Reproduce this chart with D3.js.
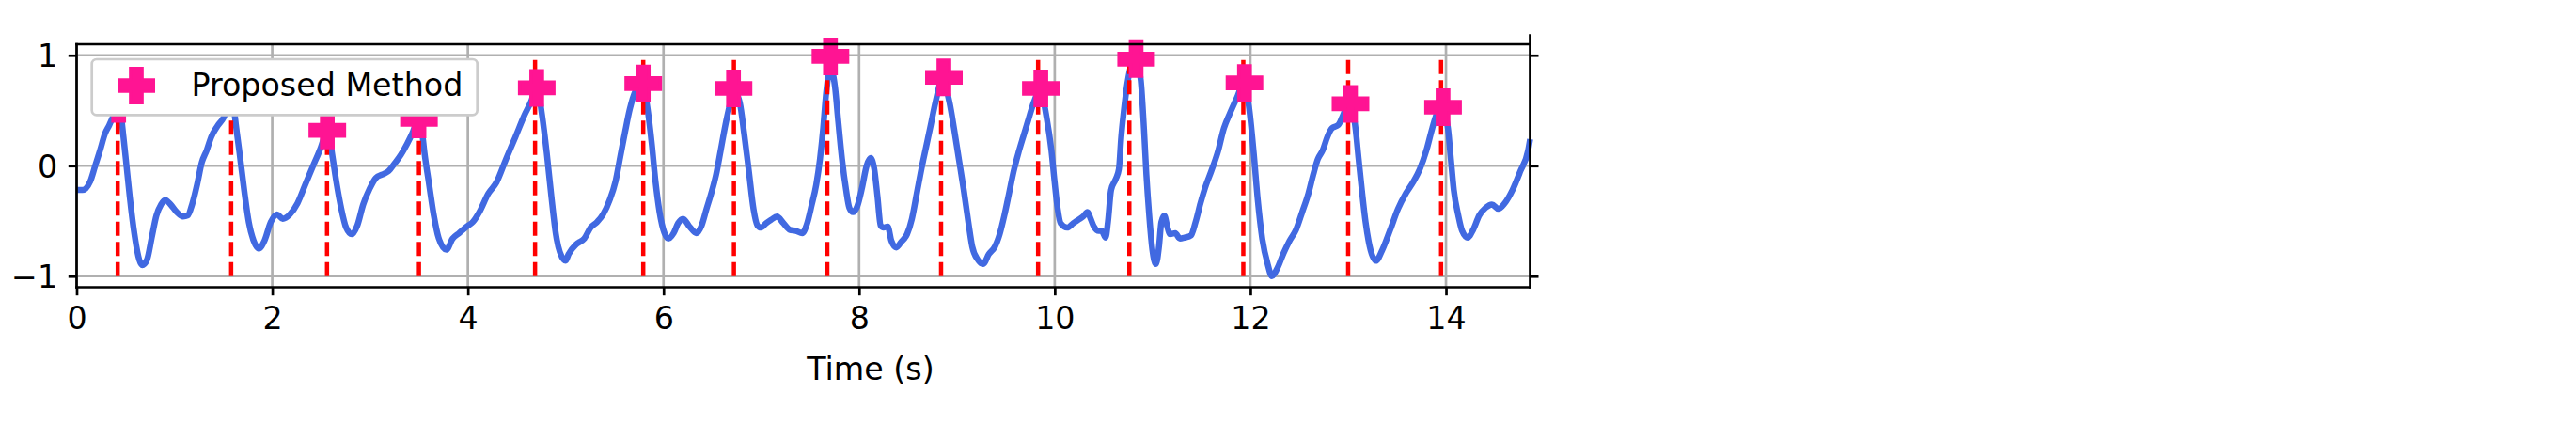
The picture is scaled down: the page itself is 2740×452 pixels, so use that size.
<!DOCTYPE html>
<html>
<head>
<meta charset="utf-8">
<script src="https://cdn.jsdelivr.net/npm/d3@7"></script>
<style>
  body { margin: 0; background: #fff; }
  svg { display: block; font-family: "DejaVu Sans", sans-serif; }
</style>
</head>
<body>
<svg id="chart" width="2740" height="452"></svg>
<script>
// signal samples (time in s, normalised amplitude)
var times = [0.00,0.06,0.14,0.19,0.24,0.29,0.335,0.383,0.42,0.455,0.479,0.51,0.543,0.591,0.64,0.671,0.72,0.768,0.816,0.864,0.905,0.96,1.024,1.088,1.136,1.184,1.232,1.28,1.33,1.376,1.44,1.505,1.54,1.575,1.60,1.617,1.665,1.713,1.76,1.81,1.864,1.92,1.985,2.05,2.107,2.18,2.258,2.338,2.418,2.498,2.54,2.565,2.59,2.61,2.66,2.706,2.755,2.813,2.87,2.93,2.995,3.06,3.123,3.187,3.25,3.316,3.38,3.43,3.48,3.505,3.53,3.556,3.604,3.652,3.70,3.78,3.844,3.91,3.99,4.05,4.117,4.21,4.293,4.39,4.486,4.58,4.646,4.69,4.72,4.758,4.806,4.854,4.90,4.98,5.00,5.03,5.11,5.19,5.255,5.32,5.383,5.45,5.51,5.56,5.608,5.655,5.71,5.785,5.838,5.88,5.918,5.96,6.01,6.05,6.104,6.15,6.20,6.265,6.338,6.39,6.44,6.488,6.538,6.585,6.633,6.68,6.715,6.78,6.825,6.873,6.92,6.96,6.995,7.05,7.10,7.16,7.226,7.29,7.354,7.418,7.466,7.514,7.562,7.60,7.633,7.66,7.684,7.705,7.73,7.754,7.787,7.825,7.867,7.90,7.937,7.98,8.03,8.077,8.117,8.155,8.188,8.22,8.25,8.293,8.33,8.38,8.43,8.49,8.54,8.59,8.637,8.685,8.733,8.78,8.85,8.925,8.97,9.02,9.07,9.117,9.156,9.213,9.268,9.326,9.39,9.437,9.485,9.533,9.58,9.63,9.677,9.725,9.773,9.85,9.918,9.966,9.998,10.03,10.06,10.127,10.19,10.24,10.29,10.335,10.367,10.40,10.45,10.48,10.52,10.544,10.576,10.624,10.656,10.68,10.705,10.737,10.77,10.81,10.85,10.88,10.912,10.937,10.966,10.998,11.035,11.066,11.09,11.12,11.153,11.18,11.232,11.28,11.33,11.393,11.44,11.49,11.537,11.60,11.666,11.73,11.794,11.86,11.93,11.985,12.034,12.076,12.12,12.18,12.22,12.275,12.34,12.40,12.467,12.53,12.594,12.643,12.69,12.74,12.787,12.835,12.90,12.94,13.0,13.04,13.075,13.107,13.14,13.178,13.22,13.284,13.35,13.43,13.51,13.59,13.67,13.733,13.80,13.86,13.91,13.96,14.02,14.05,14.08,14.126,14.165,14.222,14.278,14.34,14.406,14.47,14.535,14.60,14.68,14.76,14.84,14.86];
var signal = [-0.22,-0.22,-0.14,0.00,0.14,0.29,0.37,0.47,0.57,0.45,0.26,0.00,-0.28,-0.62,-0.85,-0.90,-0.85,-0.65,-0.45,-0.35,-0.31,-0.35,-0.42,-0.46,-0.45,-0.34,-0.17,0.03,0.14,0.26,0.36,0.44,0.52,0.66,0.60,0.456,0.12,-0.22,-0.51,-0.68,-0.75,-0.68,-0.51,-0.44,-0.48,-0.44,-0.34,-0.17,0.00,0.17,0.28,0.32,0.24,0.12,-0.17,-0.39,-0.56,-0.62,-0.54,-0.35,-0.21,-0.11,-0.08,-0.05,0.02,0.10,0.20,0.29,0.40,0.42,0.32,0.12,-0.17,-0.45,-0.65,-0.76,-0.66,-0.61,-0.55,-0.51,-0.42,-0.25,-0.15,0.06,0.26,0.46,0.58,0.68,0.66,0.46,0.12,-0.28,-0.62,-0.85,-0.86,-0.80,-0.71,-0.66,-0.56,-0.51,-0.44,-0.31,-0.14,0.09,0.31,0.51,0.67,0.74,0.51,0.20,-0.14,-0.42,-0.61,-0.66,-0.61,-0.52,-0.48,-0.55,-0.61,-0.54,-0.39,-0.25,-0.08,0.14,0.37,0.56,0.69,0.57,0.29,-0.05,-0.39,-0.54,-0.56,-0.52,-0.49,-0.46,-0.52,-0.58,-0.59,-0.61,-0.53,-0.36,-0.17,0.06,0.34,0.63,0.82,1.00,0.85,0.71,0.40,0.06,-0.22,-0.38,-0.42,-0.37,-0.20,0.00,0.07,-0.03,-0.28,-0.54,-0.56,-0.55,-0.68,-0.74,-0.69,-0.62,-0.48,-0.25,-0.03,0.17,0.37,0.57,0.78,0.57,0.34,0.06,-0.22,-0.51,-0.73,-0.85,-0.89,-0.80,-0.73,-0.62,-0.45,-0.25,-0.05,0.12,0.26,0.40,0.54,0.68,0.43,0.14,-0.14,-0.39,-0.52,-0.56,-0.52,-0.49,-0.46,-0.42,-0.48,-0.55,-0.59,-0.59,-0.65,-0.51,-0.22,-0.12,-0.03,0.26,0.48,0.71,0.87,0.95,0.90,0.77,0.34,-0.08,-0.45,-0.76,-0.89,-0.73,-0.51,-0.45,-0.56,-0.62,-0.61,-0.66,-0.65,-0.63,-0.51,-0.34,-0.20,-0.05,0.12,0.34,0.48,0.61,0.74,0.54,0.12,-0.31,-0.65,-0.90,-1.00,-0.93,-0.79,-0.68,-0.58,-0.42,-0.25,-0.08,0.06,0.14,0.26,0.34,0.37,0.44,0.55,0.52,0.34,0.06,-0.22,-0.51,-0.73,-0.86,-0.76,-0.58,-0.39,-0.25,-0.14,-0.03,0.14,0.34,0.48,0.53,0.34,0.06,-0.22,-0.45,-0.59,-0.65,-0.58,-0.45,-0.38,-0.35,-0.39,-0.34,-0.22,-0.05,0.14,0.24];

// reference peak times (red dashed lines)
var refPeaks = [0.42,1.58,2.56,3.50,4.687,5.793,6.72,7.675,8.838,9.83,10.763,11.928,13.0,13.95];

// peaks found by the proposed method
var detTimes = [0.43,1.59,2.563,3.50,4.704,5.793,6.716,7.707,8.867,9.858,10.832,11.94,13.024,13.97];
var detValues = [0.56,0.70,0.32,0.42,0.705,0.744,0.70,0.99,0.80,0.70,0.965,0.75,0.56,0.53];

var xTicks = [0,2,4,6,8,10,12,14];
var yTicks = [-1,0,1];

var svg = d3.select("#chart");
var fs = 33.3;

var x = d3.scaleLinear().domain([0, 14.86]).range([81.5, 1627.5]);
var y = d3.scaleLinear().domain([-1.1, 1.1]).range([305.5, 47]);

// grid
var grid = svg.append("g");
grid.selectAll(".gx").data(xTicks).enter().append("line")
  .attr("x1", d => x(d)).attr("x2", d => x(d))
  .attr("y1", y(-1.1)).attr("y2", y(1.1))
  .attr("stroke", "#b0b0b0").attr("stroke-width", 2.7);
grid.selectAll(".gy").data(yTicks).enter().append("line")
  .attr("x1", x(0)).attr("x2", x(14.86))
  .attr("y1", d => y(d)).attr("y2", d => y(d))
  .attr("stroke", "#b0b0b0").attr("stroke-width", 2.7);

// signal
var pts = times.map((t, i) => [t, signal[i]]);
var line = d3.line()
  .x(d => x(d[0]))
  .y(d => y(d[1]))
  .curve(d3.curveMonotoneX);

svg.append("path")
  .datum(pts)
  .attr("d", line)
  .attr("fill", "none")
  .attr("stroke", "#4169E1")
  .attr("stroke-width", 6.5)
  .attr("stroke-linejoin", "round");

// reference peaks as dashed vertical lines (drawn from -1 up to 1)
svg.selectAll(".ref").data(refPeaks).enter().append("line")
  .attr("x1", d => x(d)).attr("x2", d => x(d))
  .attr("y1", y(-1)).attr("y2", y(1))
  .attr("stroke", "red")
  .attr("stroke-width", 4.5)
  .attr("stroke-dasharray", "15,6.5");

// plus-filled marker
function plusPath(s) {
  var a = s / 2, b = s / 6;
  return "M" + (-b) + "," + (-a) + "H" + b + "V" + (-b) + "H" + a + "V" + b + "H" + b +
    "V" + a + "H" + (-b) + "V" + b + "H" + (-a) + "V" + (-b) + "H" + (-b) + "Z";
}

svg.selectAll(".det").data(detTimes).enter().append("path")
  .attr("d", plusPath(36.5))
  .attr("transform", (d, i) => "translate(" + x(d) + "," + y(detValues[i]) + ")")
  .attr("fill", "#FF1493")
  .attr("stroke", "#FF1493")
  .attr("stroke-width", 3.5)
  .attr("stroke-linejoin", "miter");

// axes
var xAxis = svg.append("g")
  .attr("transform", "translate(0," + y(-1.1) + ")")
  .call(d3.axisBottom(x).tickValues(xTicks).tickSize(8.7).tickPadding(11.7).tickFormat(d3.format("d")));

var yAxis = svg.append("g")
  .attr("transform", "translate(" + x(0) + ",0)")
  .call(d3.axisLeft(y).tickValues(yTicks).tickSize(8.7).tickPadding(11.7).tickFormat(d => d < 0 ? "\u2212" + Math.abs(d) : d));

var yAxisR = svg.append("g")
  .attr("transform", "translate(" + x(14.86) + ",0)")
  .call(d3.axisRight(y).tickValues(yTicks).tickSize(9).tickFormat(""));

[xAxis, yAxis, yAxisR].forEach(function(g) {
  g.select(".domain").remove();
  g.selectAll(".tick line").attr("stroke", "#000").attr("stroke-width", 2.7);
  g.selectAll(".tick text")
    .attr("fill", "#000")
    .style("font-family", "'DejaVu Sans', sans-serif")
    .style("font-size", fs + "px");
});
xAxis.selectAll(".tick text").attr("dy", null).attr("y", 8.7 + 11.7 + 24.4);
yAxis.selectAll(".tick text").attr("dy", "0.36em");

// spines
var sp = svg.append("g").attr("stroke", "#000").attr("stroke-width", 2.7).attr("stroke-linecap", "square");
sp.append("line").attr("x1", x(0)).attr("x2", x(14.86)).attr("y1", y(1.1)).attr("y2", y(1.1));
sp.append("line").attr("x1", x(0)).attr("x2", x(14.86)).attr("y1", y(-1.1)).attr("y2", y(-1.1));
sp.append("line").attr("x1", x(0)).attr("x2", x(0)).attr("y1", y(1.1)).attr("y2", y(-1.1));
sp.append("line").attr("x1", x(14.86)).attr("x2", x(14.86)).attr("y1", 37.7).attr("y2", y(-1.1));

// x label
svg.append("text")
  .attr("x", 926).attr("y", 404)
  .attr("text-anchor", "middle")
  .style("font-size", fs + "px")
  .text("Time (s)");

// legend
var leg = svg.append("g");
leg.append("rect")
  .attr("x", 97.7).attr("y", 63).attr("width", 410).attr("height", 59.3)
  .attr("rx", 5).attr("fill", "#fff")
  .attr("stroke", "#cccccc").attr("stroke-width", 2.7);
leg.append("path")
  .attr("d", plusPath(36.5))
  .attr("transform", "translate(145,91)")
  .attr("fill", "#FF1493").attr("stroke", "#FF1493").attr("stroke-width", 3.5);
leg.append("text")
  .attr("x", 203.5).attr("y", 102)
  .style("font-size", fs + "px")
  .text("Proposed Method");
</script>
</body>
</html>
